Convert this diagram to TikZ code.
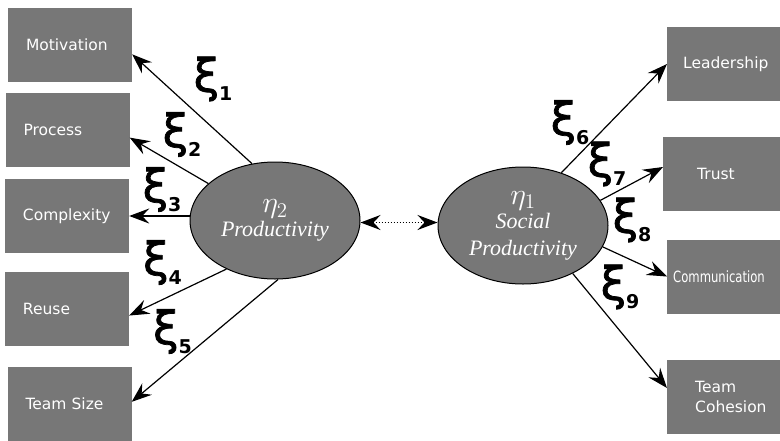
\documentclass[tikz,border=0pt]{standalone}
\usepackage{fontspec}
\usepackage{graphicx}
\usetikzlibrary{arrows.meta,shapes.geometric}

\newfontfamily\boxfont{DejaVu Sans}
\newfontfamily\xifont{DejaVu Sans}[FakeBold=1.6]
\newfontfamily\ellfont{Liberation Serif}
\definecolor{boxgray}{RGB}{119,119,119}
\newcommand{\xil}[1]{{\xifont\fontsize{46}{46}\selectfont ξ\raisebox{-9pt}{\boxfont\bfseries\fontsize{19}{19}\selectfont #1}}}
\newcommand{\etal}[1]{\scalebox{1.45}{$\eta_{#1}$}}

\begin{document}
\begin{tikzpicture}[x=1pt,y=-1pt,
    obs/.style={rectangle, fill=boxgray, text=white, font=\boxfont\fontsize{15.5}{20}\selectfont,
        minimum height=74pt, text width=88pt, inner xsep=18pt, align=left},
    obsr/.style={obs, anchor=west, text width=120pt},
    lat/.style={ellipse, draw=black, line width=1pt, fill=boxgray, text=white,
        minimum width=170pt, minimum height=117pt, inner sep=0pt, align=center},
    arr/.style={-{Stealth[length=20pt,width=15pt,inset=7pt]}, line width=1.2pt},
    cov/.style={{Stealth[length=20pt,width=15pt,inset=7pt]}-{Stealth[length=20pt,width=15pt,inset=7pt]},
        dash pattern=on 1.5pt off 1.5pt, line width=1.8pt},
    xilab/.style={inner sep=0pt}]
    \useasboundingbox (0,0) rectangle (780,440);

    % indicators of eta 2
    \node[obs] (motiv) at (70,44.5) {Motivation};
    \node[obs] (proc) at (67.5,130) {Process};
    \node[obs] (cplx) at (67,216) {Complexity};
    \node[obs] (reuse) at (67,309) {Reuse};
    \node[obs] (tsize) at (69.5,404) {Team Size};

    % indicators of eta 1
    \node[obsr, inner xsep=16pt] (lead) at (667,64) {Leadership};
    \node[obsr, inner xsep=34pt] (trust) at (663,174) {Trust};
    \node[obsr, inner xsep=6pt] (comm) at (667,276.5) {\scalebox{0.75}[1]{Communication}};
    \node[obsr, inner xsep=28pt] (cohes) at (667,396.5) {Team\\Cohesion};

    % latent variables
    \node[lat, font=\fontsize{22}{22}\selectfont] (eta2) at (275,220.5)
        {\etal{2}\\[2pt]{\ellfont\itshape Productivity}};
    \node[lat, font=\fontsize{22}{27}\selectfont] (eta1) at (523,225.5)
        {\etal{1}\\[-3pt]{\ellfont\itshape Social}\\{\ellfont\itshape Productivity}};

    \draw[cov] ([yshift=-2pt]eta2.east) -- ([yshift=-2pt]eta2.east -| eta1.west);

    \draw[arr] (eta2.112) -- (motiv.-9);
    \draw[arr] (eta2.151) -- (proc.-7);
    \draw[arr] (eta2.west |- cplx.east) -- (cplx.east);
    \draw[arr] (eta2.225) -- (reuse.-6);
    \draw[arr] (eta2.273) -- (tsize.2);

    \draw[arr] (eta1.54) -- (lead.west);
    \draw[arr] (eta1.18) -- ([yshift=7pt]trust.west);
    \draw[arr] (eta1.-15) -- (comm.west);
    \draw[arr] (eta1.-44) -- ([yshift=8.5pt]cohes.west);

    % loadings
    \node[xilab] (xi1) at (213,79) {\xil{1}};
    \node[xilab] (xi2) at (182,134.5) {\xil{2}};
    \node[xilab] (xi3) at (162,189.5) {\xil{3}};
    \node[xilab] (xi4) at (162.5,262.5) {\xil{4}};
    \node[xilab] (xi5) at (172.5,331.5) {\xil{5}};
    \node[xilab] (xi6) at (570,122.5) {\xil{6}};
    \node[xilab] (xi7) at (607,164) {\xil{7}};
    \node[xilab] (xi8) at (632,220) {\xil{8}};
    \node[xilab] (xi9) at (620,287) {\xil{9}};
\end{tikzpicture}
\end{document}
